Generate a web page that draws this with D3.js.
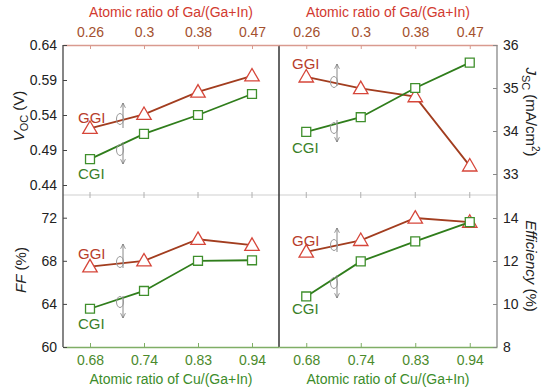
<!DOCTYPE html>
<html>
<head>
<meta charset="utf-8">
<script src="https://cdn.jsdelivr.net/npm/d3@7"></script>
<style>
  body { margin: 0; background: #fff; }
  text { font-family: "Liberation Sans", Arial, sans-serif; }
</style>
</head>
<body>
<div id="chart"></div>
<script>
// categories
const gaRatio = ['0.26', '0.3', '0.38', '0.47'];
const cuRatio = ['0.68', '0.74', '0.83', '0.94'];

// series (GGI vs Ga ratio, CGI vs Cu ratio)
const vocGGI = [0.521, 0.541, 0.573, 0.596];
const vocCGI = [0.477, 0.513, 0.540, 0.570];
const jscGGI = [35.26, 34.99, 34.80, 33.19];
const jscCGI = [33.98, 34.32, 35.00, 35.59];
const ffGGI = [67.45, 68.0, 70.0, 69.45];
const ffCGI = [63.55, 65.2, 68.0, 68.05];
const effGGI = [12.42, 12.96, 14.0, 13.81];
const effCGI = [10.35, 11.98, 12.91, 13.81];

// tick labels
const vocTicks = [0.44, 0.49, 0.54, 0.59, 0.64];
const jscTicks = [33, 34, 35, 36];
const ffTicks = [60, 64, 68, 72];
const effTicks = [8, 10, 12, 14];

const W = 550, H = 391;
const x0 = 63, xm = 279, x1 = 497;
const y0 = 45, ym = 195, y1 = 347;

const ggiLine = '#a23d1f', ggiMark = '#d6463a', ggiText = '#b83d2a';
const cgiLine = '#2f7d1b', cgiMark = '#3f8f2c', cgiText = '#3a7f27';
const topTick = '#a4502e', topTitle = '#d23a30';
const botTick = '#4b8a2c', botTitle = '#3c8c2a';

const svg = d3.select('#chart').append('svg')
  .attr('width', W).attr('height', H);

const xL = d3.scalePoint().domain(d3.range(4)).range([x0, xm]).padding(0.5);
const xR = d3.scalePoint().domain(d3.range(4)).range([xm, x1]).padding(0.5);

const yVoc = d3.scaleLinear().domain([0.44, 0.64]).range([185, y0]);
const yJsc = d3.scaleLinear().domain([33, 36]).range([174, y0]);
const yFF = d3.scaleLinear().domain([60, 72]).range([y1, 217.7]);
const yEff = d3.scaleLinear().domain([8, 14]).range([y1, 218]);

// panel frame lines
svg.append('line').attr('x1', x0).attr('x2', x1).attr('y1', ym).attr('y2', ym)
  .attr('stroke', '#cfcfcf').attr('stroke-width', 1);
svg.append('line').attr('x1', xm).attr('x2', xm).attr('y1', y0).attr('y2', y1)
  .attr('stroke', '#333').attr('stroke-width', 1.5);

function styleAxis(g, lineColor, textColor, size) {
  g.select('.domain').attr('stroke', lineColor).attr('stroke-width', 1.3);
  g.selectAll('.tick line').attr('stroke', lineColor);
  g.selectAll('.tick text').attr('fill', textColor)
    .style('font-family', '"Liberation Sans", Arial, sans-serif')
    .style('font-size', size + 'px');
}

// top axes (Ga ratio)
[xL, xR].forEach(x => {
  const g = svg.append('g').attr('transform', `translate(0,${y0})`)
    .call(d3.axisTop(x).tickFormat(i => gaRatio[i]).tickSizeInner(-4).tickSizeOuter(0).tickPadding(8));
  styleAxis(g, '#d99a8f', topTick, 14);
});
// bottom axes (Cu ratio)
[xL, xR].forEach(x => {
  const g = svg.append('g').attr('transform', `translate(0,${y1})`)
    .call(d3.axisBottom(x).tickFormat(i => cuRatio[i]).tickSizeInner(-4).tickSizeOuter(0).tickPadding(8));
  styleAxis(g, '#7fae66', botTick, 14);
});
// middle tick marks
[xL, xR].forEach(x => {
  svg.append('g').selectAll('line').data(d3.range(4)).join('line')
    .attr('x1', i => x(i)).attr('x2', i => x(i))
    .attr('y1', ym - 3).attr('y2', ym + 3)
    .attr('stroke', '#b0b0b0');
});

// y axes
const gVoc = svg.append('g').attr('transform', `translate(${x0},0)`)
  .call(d3.axisLeft(yVoc).tickValues(vocTicks).tickFormat(d3.format('.2f')).tickSizeInner(-4).tickSizeOuter(0).tickPadding(6));
styleAxis(gVoc, '#444', '#222', 14);
gVoc.select('.domain').attr('d', `M0,${y0}V${ym}`);

const gFF = svg.append('g').attr('transform', `translate(${x0},0)`)
  .call(d3.axisLeft(yFF).tickValues(ffTicks).tickFormat(d3.format('d')).tickSizeInner(-4).tickSizeOuter(0).tickPadding(6));
styleAxis(gFF, '#444', '#222', 14);
gFF.select('.domain').attr('d', `M0,${ym}V${y1}`);

const gJsc = svg.append('g').attr('transform', `translate(${x1},0)`)
  .call(d3.axisRight(yJsc).tickValues(jscTicks).tickFormat(d3.format('d')).tickSizeInner(-4).tickSizeOuter(0).tickPadding(6));
styleAxis(gJsc, '#888', '#222', 14);
gJsc.select('.domain').attr('d', `M0,${y0}V${ym}`);

const gEff = svg.append('g').attr('transform', `translate(${x1},0)`)
  .call(d3.axisRight(yEff).tickValues(effTicks).tickFormat(d3.format('d')).tickSizeInner(-4).tickSizeOuter(0).tickPadding(6));
styleAxis(gEff, '#888', '#222', 14);
gEff.select('.domain').attr('d', `M0,${ym}V${y1}`);

// axis titles
function title(x, y, txt, color) {
  svg.append('text').attr('x', x).attr('y', y).attr('text-anchor', 'middle')
    .attr('fill', color).style('font-size', '14px').text(txt);
}
title((x0 + xm) / 2, 17, 'Atomic ratio of Ga/(Ga+In)', topTitle);
title((xm + x1) / 2, 17, 'Atomic ratio of Ga/(Ga+In)', topTitle);
title((x0 + xm) / 2, 384, 'Atomic ratio of Cu/(Ga+In)', botTitle);
title((xm + x1) / 2, 384, 'Atomic ratio of Cu/(Ga+In)', botTitle);

// y titles
const tVoc = svg.append('text').attr('transform', 'translate(24,116) rotate(-90)')
  .attr('text-anchor', 'middle').attr('fill', '#222').style('font-size', '15px');
tVoc.append('tspan').style('font-style', 'italic').text('V');
tVoc.append('tspan').attr('dy', 4).style('font-size', '11px').text('OC');
tVoc.append('tspan').attr('dy', -4).text(' (V)');

const tFF = svg.append('text').attr('transform', 'translate(26,270) rotate(-90)')
  .attr('text-anchor', 'middle').attr('fill', '#222').style('font-size', '15px');
tFF.append('tspan').style('font-style', 'italic').text('FF');
tFF.append('tspan').text(' (%)');

const tJsc = svg.append('text').attr('transform', 'translate(526,112) rotate(90)')
  .attr('text-anchor', 'middle').attr('fill', '#222').style('font-size', '15px');
tJsc.append('tspan').style('font-style', 'italic').text('J');
tJsc.append('tspan').attr('dy', 4).style('font-size', '11px').text('SC');
tJsc.append('tspan').attr('dy', -4).text(' (mA/cm');
tJsc.append('tspan').attr('dy', -6).style('font-size', '10px').text('2');
tJsc.append('tspan').attr('dy', 6).text(')');

const tEff = svg.append('text').attr('transform', 'translate(526,266) rotate(90)')
  .attr('text-anchor', 'middle').attr('fill', '#222').style('font-size', '15px');
tEff.append('tspan').style('font-style', 'italic').text('Efficiency');
tEff.append('tspan').text(' (%)');

// series drawing
function series(x, y, vals, lineColor, markColor, shape) {
  const g = svg.append('g');
  g.append('path').datum(vals)
    .attr('d', d3.line().x((d, i) => x(i)).y(d => y(d)))
    .attr('fill', 'none').attr('stroke', lineColor).attr('stroke-width', 1.8);
  const sym = d3.symbol().type(shape === 'tri' ? d3.symbolTriangle : d3.symbolSquare)
    .size(shape === 'tri' ? 90 : 80);
  g.selectAll('path.m').data(vals).join('path').attr('class', 'm')
    .attr('transform', (d, i) => `translate(${x(i)},${y(d) + (shape === 'tri' ? 1 : 0)})`)
    .attr('d', sym).attr('fill', '#fff').attr('stroke', markColor).attr('stroke-width', 1.3);
}

series(xL, yVoc, vocGGI, ggiLine, ggiMark, 'tri');
series(xL, yVoc, vocCGI, cgiLine, cgiMark, 'sq');
series(xR, yJsc, jscGGI, ggiLine, ggiMark, 'tri');
series(xR, yJsc, jscCGI, cgiLine, cgiMark, 'sq');
series(xL, yFF, ffGGI, ggiLine, ggiMark, 'tri');
series(xL, yFF, ffCGI, cgiLine, cgiMark, 'sq');
series(xR, yEff, effGGI, ggiLine, ggiMark, 'tri');
series(xR, yEff, effCGI, cgiLine, cgiMark, 'sq');

// labels
function lab(x, y, txt, color) {
  svg.append('text').attr('x', x).attr('y', y).attr('fill', color)
    .style('font-size', '15px').text(txt);
}
lab(78, 123, 'GGI', ggiText);
lab(78, 179, 'CGI', cgiText);
lab(292, 69, 'GGI', ggiText);
lab(292, 153, 'CGI', cgiText);
lab(78, 259, 'GGI', ggiText);
lab(78, 329, 'CGI', cgiText);
lab(292, 246, 'GGI', ggiText);
lab(292, 314, 'CGI', cgiText);

// axis-pointer arrows with small loops
svg.append('defs').append('marker').attr('id', 'ah')
  .attr('viewBox', '0 0 10 10').attr('refX', 9).attr('refY', 5)
  .attr('markerWidth', 6).attr('markerHeight', 6).attr('orient', 'auto')
  .append('path').attr('d', 'M1,1L9,5L1,9').attr('fill', 'none').attr('stroke', '#777').attr('stroke-width', 1.3);

function arrow(x, ya, yb, yLoop) {
  svg.append('line').attr('x1', x).attr('x2', x).attr('y1', ya).attr('y2', yb)
    .attr('stroke', '#888').attr('stroke-width', 1).attr('marker-end', 'url(#ah)');
  svg.append('ellipse').attr('cx', x - 3).attr('cy', yLoop).attr('rx', 3.5).attr('ry', 5.5)
    .attr('fill', 'none').attr('stroke', '#999').attr('stroke-width', 1);
}
arrow(123, 128, 103, 119);
arrow(123, 142, 164, 150);
arrow(337, 86, 64, 82);
arrow(337, 120, 142, 128);
arrow(123, 268, 244, 262);
arrow(123, 296, 318, 302);
arrow(337, 252, 228, 245);
arrow(337, 275, 298, 283);
</script>
</body>
</html>
